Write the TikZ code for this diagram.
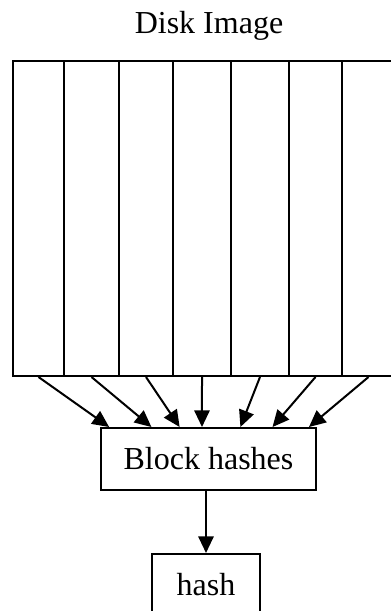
\documentclass[tikz,border=0pt]{standalone}
\usepackage{fontspec}
\setmainfont{Liberation Serif}
\usetikzlibrary{calc}
\usetikzlibrary{arrows.meta}

\begin{document}
\begin{tikzpicture} [x=0.75pt, y=-0.75pt, line width=1.5pt, >={Triangle[length=12.5pt,width=11.5pt]},
  box/.style={draw, inner sep=0pt, font=\fontsize{24}{28}\selectfont}]
\useasboundingbox (0,0) rectangle (391,611);

\node[anchor=base, font=\fontsize{24}{28}\selectfont] (title) at (209,33) {Disk Image};

% the disk, cut into blocks
\foreach \l/\r [count=\i, evaluate=\r as \w using (\r-\l)*0.75] in {12/63, 63/118, 118/172, 172/230, 230/288, 288/341, 341/394}
  \node[box, anchor=north west, minimum width=\w pt, minimum height=236.25pt] (b\i) at (\l,60) {};

\node[box, minimum width=161.25pt, minimum height=46.5pt] (hashes) at (208.5,459) {Block hashes};
\node[box, minimum width=81pt, minimum height=46.5pt] (hash) at (206,585) {hash};

\foreach \f [count=\i] in {0.042, 0.237, 0.367, 0.47, 0.647, 0.795, 0.963}
  \draw[->] (b\i.south) -- ($(hashes.north west)!\f!(hashes.north east)$);

\draw[->] (hash.north |- hashes.south) -- (hash.north);

\end{tikzpicture}
\end{document}
